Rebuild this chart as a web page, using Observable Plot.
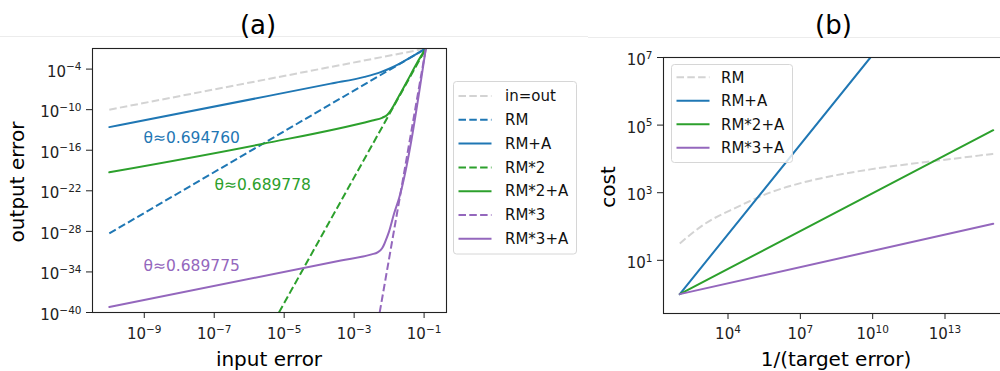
<!DOCTYPE html>
<html><head><meta charset="utf-8">
<script src="https://cdn.jsdelivr.net/npm/d3@7"></script>
<script src="https://cdn.jsdelivr.net/npm/@observablehq/plot@0.6"></script>
<style>
html,body{margin:0;padding:0;background:#fff;}
#wrap{position:relative;width:1000px;height:371px;overflow:hidden;background:#fff;font-family:"DejaVu Sans";}
#wrap svg{position:absolute;top:0;}
</style></head><body><div id="wrap"></div>
<script>
// ---------- Panel (a): output error vs input error ----------
const inoutX = [1e-10, 0.112];
const inoutY = [1e-10, 0.107];
const rmX = [1e-10, 0.112];
const rmY = [5.0e-29, 0.107];
const rmAX = [1e-10, 3.63e-6, 2.14e-4, 2.0e-3, 5.75e-3, 1.12e-2, 2.0e-2, 3.39e-2, 6.31e-2, 0.112];
const rmAY = [2.63e-13, 1.10e-8, 7.08e-7, 7.08e-6, 3.55e-5, 1.45e-4, 6.46e-4, 3.02e-3, 1.91e-2, 0.107];
const rm2X = [7.08e-6, 0.112];
const rm2Y = [1e-40, 0.107];
const rm2AX = [1e-10, 2.34e-6, 3.31e-3, 6.31e-3, 8.91e-3, 1.12e-2, 1.38e-2, 2.0e-2, 3.39e-2, 6.31e-2, 0.112];
const rm2AY = [5.5e-20, 8.5e-16, 2.57e-12, 6.31e-12, 1.78e-11, 7.94e-11, 5.01e-10, 1.58e-8, 2.24e-6, 8.91e-4, 0.107];
const rm3X = [5.37e-3, 0.112];
const rm3Y = [1e-40, 0.107];
const rm3AX = [1e-10, 4.17e-4, 3.16e-3, 4.68e-3, 6.31e-3, 7.24e-3, 8.51e-3, 1.0e-2, 1.38e-2, 1.95e-2, 0.112];
const rm3AY = [6.31e-40, 5.01e-33, 3.98e-32, 7.94e-32, 3.16e-31, 1.26e-30, 1e-29, 1e-28, 3.98e-26, 1e-23, 0.107];

const namesA = ["in=out", "RM", "RM+A", "RM*2", "RM*2+A", "RM*3", "RM*3+A"];
const colorsA = ["#d3d3d3", "#1f77b4", "#1f77b4", "#2ca02c", "#2ca02c", "#9467bd", "#9467bd"];
const dashedA = [true, true, false, true, false, true, false];
const xsA = [inoutX, rmX, rmAX, rm2X, rm2AX, rm3X, rm3AX];
const ysA = [inoutY, rmY, rmAY, rm2Y, rm2AY, rm3Y, rm3AY];

const thetaText = ["θ≈0.694760", "θ≈0.689778", "θ≈0.689775"];
const thetaX = [9.5e-10, 1.02e-7, 9.5e-10];
const thetaY = [5.9e-15, 6.5e-22, 8.1e-34];
const thetaColor = ["#1f77b4", "#2ca02c", "#9467bd"];

const xTicksA = [1e-9, 1e-7, 1e-5, 1e-3, 1e-1];
const yTicksA = [1e-4, 1e-10, 1e-16, 1e-22, 1e-28, 1e-34, 1e-40];

// ---------- Panel (b): cost vs 1/(target error) ----------
const costRMX = [1e2, 1e3, 2.51e4, 6.31e5, 1.26e7, 3.16e8, 7.94e9, 2.0e11, 5.01e12, 1e15];
const costRMY = [31.6, 115, 380, 1047, 1995, 3311, 4898, 6761, 8913, 14125];
const costAX = [1e2, 8.04e9];
const costAY = [1, 1e7];
const cost2AX = [1e2, 1e15];
const cost2AY = [1, 7.08e4];
const cost3AX = [1e2, 1e15];
const cost3AY = [1, 120];

const namesB = ["RM", "RM+A", "RM*2+A", "RM*3+A"];
const colorsB = ["#d3d3d3", "#1f77b4", "#2ca02c", "#9467bd"];
const dashedB = [true, false, false, false];
const xsB = [costRMX, costAX, cost2AX, cost3AX];
const ysB = [costRMY, costAY, cost2AY, cost3AY];

const xTicksB = [1e4, 1e7, 1e10, 1e13];
const yTicksB = [1e1, 1e3, 1e5, 1e7];

// ---------- helpers ----------
const DASH = "7.5,3.3";
const fmt = d => { const e = Math.round(Math.log10(d)); return "10^" + (e < 0 ? "\u2212" + (-e) : String(e)); };
const style = {fontFamily: "DejaVu Sans", fontSize: "15px", color: "#222", background: "transparent", overflow: "visible"};

function lineMarks(names, colors, dashed, xs, ys) {
  return names.map((n, k) => {
    const pts = xs[k].map((x, i) => ({x, y: ys[k][i]}));
    return Plot.line(pts, {
      x: "x", y: "y", stroke: colors[k], strokeWidth: 2,
      strokeDasharray: dashed[k] ? DASH : undefined,
      strokeLinecap: dashed[k] ? "butt" : "round",
      curve: xs[k].length > 2 ? "monotone-x" : "linear",
      clip: true
    });
  });
}

function supify(svg) {
  const NS = "http://www.w3.org/2000/svg";
  svg.querySelectorAll("text").forEach(t => {
    const s = t.textContent;
    if (!s.includes("^")) return;
    const [b, e] = s.split("^");
    const anc = t.closest("[text-anchor]");
    const isY = (t.getAttribute("text-anchor") || (anc && anc.getAttribute("text-anchor"))) === "end";
    while (t.firstChild) t.removeChild(t.firstChild);
    const t1 = document.createElementNS(NS, "tspan");
    t1.textContent = b;
    if (isY) t1.setAttribute("dy", "0.18em");
    const t2 = document.createElementNS(NS, "tspan");
    t2.textContent = e;
    t2.setAttribute("font-size", "70%");
    t2.setAttribute("dy", "-0.6em");
    t.append(t1, t2);
  });
}

const wrap = document.getElementById("wrap");

const plotA = Plot.plot({
  width: 470, height: 371,
  marginLeft: 92, marginRight: 24, marginTop: 48, marginBottom: 59,
  style,
  x: {type: "log", domain: [3.31e-11, 0.437], ticks: xTicksA, tickFormat: fmt, tickSize: 6, tickPadding: 10, label: null},
  y: {type: "log", domain: [1e-40, 0.1114], ticks: yTicksA, tickFormat: fmt, tickSize: 6, tickPadding: 5, label: null},
  marks: [
    ...lineMarks(namesA, colorsA, dashedA, xsA, ysA),
    ...thetaText.map((txt, i) => Plot.text([i], {x: () => thetaX[i], y: () => thetaY[i], text: () => txt, fill: thetaColor[i], textAnchor: "start", fontSize: 15.5})),
    Plot.frame({stroke: "#222", strokeWidth: 1.1})
  ]
});
plotA.style.left = "0px";
supify(plotA);
wrap.appendChild(plotA);

const plotB = Plot.plot({
  width: 420, height: 371,
  marginLeft: 63, marginRight: 11, marginTop: 57, marginBottom: 58,
  style,
  x: {type: "log", domain: [21.1, 4.73e15], ticks: xTicksB, tickFormat: fmt, tickSize: 6, tickPadding: 9, label: null},
  y: {type: "log", domain: [0.267, 1e7], ticks: yTicksB, tickFormat: fmt, tickSize: 6, tickPadding: 5, label: null},
  marks: [
    ...lineMarks(namesB, colorsB, dashedB, xsB, ysB),
    Plot.frame({stroke: "#222", strokeWidth: 1.1})
  ]
});
plotB.style.left = "600px";
supify(plotB);
wrap.appendChild(plotB);

// ---------- overlay: titles, axis labels, legends ----------
const NS = "http://www.w3.org/2000/svg";
const ov = document.createElementNS(NS, "svg");
ov.setAttribute("width", 1000); ov.setAttribute("height", 371);
ov.style.left = "0px";
ov.setAttribute("font-family", "DejaVu Sans");
wrap.appendChild(ov);
function el(tag, attrs, text) {
  const e = document.createElementNS(NS, tag);
  for (const k in attrs) e.setAttribute(k, attrs[k]);
  if (text != null) e.textContent = text;
  ov.appendChild(e);
  return e;
}
el("line", {x1: 0, x2: 588, y1: 36.5, y2: 36.5, stroke: "#ececec", "stroke-width": 1});
el("line", {x1: 588, x2: 1000, y1: 37.5, y2: 37.5, stroke: "#ececec", "stroke-width": 1});
el("text", {x: 258, y: 33.5, "font-size": 26, "text-anchor": "middle", fill: "#000"}, "(a)");
el("text", {x: 833.5, y: 33.5, "font-size": 26, "text-anchor": "middle", fill: "#000"}, "(b)");
el("text", {x: 269, y: 365.5, "font-size": 20, "text-anchor": "middle", fill: "#000"}, "input error");
el("text", {x: 836, y: 365.5, "font-size": 20, "text-anchor": "middle", fill: "#000"}, "1/(target error)");
el("text", {transform: "translate(23.5,182) rotate(-90)", "font-size": 20, "text-anchor": "middle", fill: "#000"}, "output error");
el("text", {transform: "translate(615,187) rotate(-90)", "font-size": 20, "text-anchor": "middle", fill: "#000"}, "cost");

function legend(x0, y0, w, h, firstY, step, sx1, sx2, tx, names, colors, dashed) {
  el("rect", {x: x0, y: y0, width: w, height: h, rx: 3, ry: 3, fill: "#fff", "fill-opacity": 0.8, stroke: "#d6d6d6", "stroke-width": 1});
  names.forEach((n, i) => {
    const y = firstY + i * step;
    const a = {x1: sx1, x2: sx2, y1: y, y2: y, stroke: colors[i], "stroke-width": 2};
    if (dashed[i]) { a["stroke-dasharray"] = DASH; }
    el("line", a);
    el("text", {x: tx, y: y, dy: "0.35em", "font-size": 15, fill: "#111"}, n);
  });
}
legend(453.5, 81.5, 123, 172.5, 96, 23.8, 458.5, 491.5, 505, namesA, colorsA, dashedA);
legend(671.5, 64.5, 121, 98, 77.3, 23.5, 676.5, 709.5, 721, namesB, colorsB, dashedB);
</script>
</body></html>
